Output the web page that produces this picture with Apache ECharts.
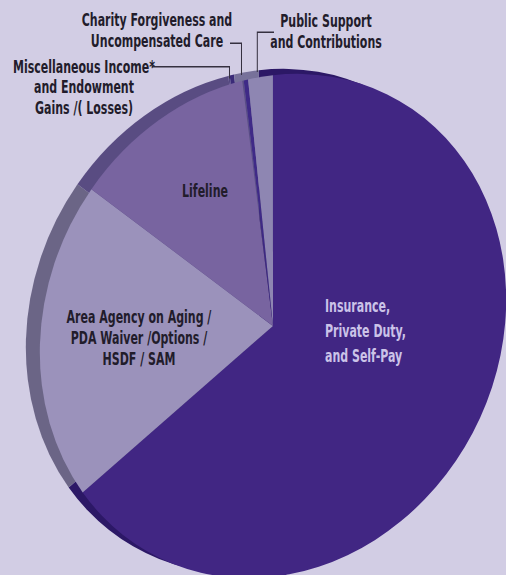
<!DOCTYPE html>
<html><head><meta charset="utf-8">
<script src="https://cdn.jsdelivr.net/npm/echarts@6/dist/echarts.min.js"></script>
<style>
html,body{margin:0;padding:0;background:#d2cde4;overflow:hidden;width:506px;height:575px;position:relative;}
#pie{position:absolute;left:-60px;top:-60px;width:666px;height:720px;
  transform-origin:333px 386px;transform:rotate(26.565deg) scale(0.94375,1.07583);}
#lab{position:absolute;left:0;top:0;width:703px;height:575px;
  transform-origin:0 0;transform:scaleX(0.72);}
</style></head><body><div id="pie"></div><div id="lab"></div>
<script>
// ---- data ----
const categories = [
  'Insurance,\nPrivate Duty,\nand Self-Pay',
  'Area Agency on Aging /\nPDA Waiver /Options /\nHSDF / SAM',
  'Lifeline',
  'Miscellaneous Income*\nand Endowment\nGains /( Losses)',
  'Charity Forgiveness and\nUncompensated Care',
  'Public Support\nand Contributions'
];
const values = [65.2, 20.6, 12.1, 0.1, 0.3, 1.7];

// ---- style ----
const LX = 0.72;          // horizontal squeeze of the label layer (condensed type)
const START = 119.7;      // start angle so the first slice begins at 12 o'clock on screen
const faceColors = ['#412683', '#9b92bb', '#7864a0', '#5a4c86', '#3f2a87', '#8e86b2'];
const rimColors  = ['#2c1866', '#6b6586', '#594c82', '#52467f', '#3a2a78', '#77719a'];
const FONT = "'DejaVu Sans Condensed','Liberation Sans Narrow',sans-serif";
// label placement in page pixels
const labelPlace = [
  {x: 325, y: 330.5, align: 'left',   color: '#cbc3e8', lh: 24.7},
  {x: 139, y: 337.5, align: 'center', color: '#221c2b', lh: 21},
  {x: 205, y: 190.5, align: 'center', color: '#221c2b', lh: 21},
  {x: 84,  y: 87,    align: 'center', color: '#221c2b', lh: 20.7, line: [[229.5, 78.5], [229.5, 66.7], [152, 66.7]]},
  {x: 157, y: 30.5,  align: 'center', color: '#221c2b', lh: 21,   line: [[241.5, 75], [241.5, 43.3], [230, 43.3]]},
  {x: 326, y: 31.5,  align: 'center', color: '#221c2b', lh: 21,   line: [[257.3, 72], [257.3, 32.3], [274, 32.3]]}
];
const CENTER = [273, 326];   // page position of the pie centre
const PIE_OFF = [60, 60];    // offset of the pie layer box
const RADIUS = 240;

// ---- pie layer (stretched + tilted into the ellipse) ----
const pc = [CENTER[0] + PIE_OFF[0], CENTER[1] + PIE_OFF[1]];
const pie = echarts.init(document.getElementById('pie'), null, {renderer: 'svg'});
pie.setOption({
  animation: false,
  series: [
    {
      type: 'pie', silent: true, z: 1,
      center: [pc[0] - 15.6, pc[1] + 1.7],
      radius: RADIUS, startAngle: START, clockwise: true,
      label: {show: false}, labelLine: {show: false},
      emphasis: {disabled: true},
      data: categories.map((n, i) => ({name: n, value: values[i], itemStyle: {color: rimColors[i]}}))
    },
    {
      type: 'pie', silent: true, z: 2,
      center: pc,
      radius: RADIUS, startAngle: START, clockwise: true,
      label: {show: false}, labelLine: {show: false},
      emphasis: {disabled: true},
      data: categories.map((n, i) => ({name: n, value: values[i], itemStyle: {color: faceColors[i]}}))
    }
  ]
});

// ---- label layer ----
const lab = echarts.init(document.getElementById('lab'), null, {renderer: 'svg'});
lab.setOption({
  animation: false,
  series: [{
    type: 'pie', silent: true,
    center: [CENTER[0] / LX, CENTER[1]],
    radius: RADIUS, startAngle: START, clockwise: true,
    avoidLabelOverlap: false,
    emphasis: {disabled: true},
    itemStyle: {color: 'rgba(0,0,0,0)'},
    label: {
      position: 'outside',
      fontFamily: FONT,
      fontSize: 17,
      fontWeight: 'bold',
      formatter: '{b}'
    },
    labelLine: {lineStyle: {color: '#35303f', width: 1.4}},
    labelLayout: function (p) {
      const lp = labelPlace[p.dataIndex];
      const out = {x: lp.x / LX, y: lp.y, align: lp.align, verticalAlign: 'middle'};
      if (lp.line) out.labelLinePoints = lp.line.map(pt => [pt[0] / LX, pt[1]]);
      return out;
    },
    data: categories.map((n, i) => ({
      name: n, value: values[i],
      label: {show: true, color: labelPlace[i].color, lineHeight: labelPlace[i].lh, align: labelPlace[i].align},
      labelLine: {show: !!labelPlace[i].line}
    }))
  }]
});
</script></body></html>
